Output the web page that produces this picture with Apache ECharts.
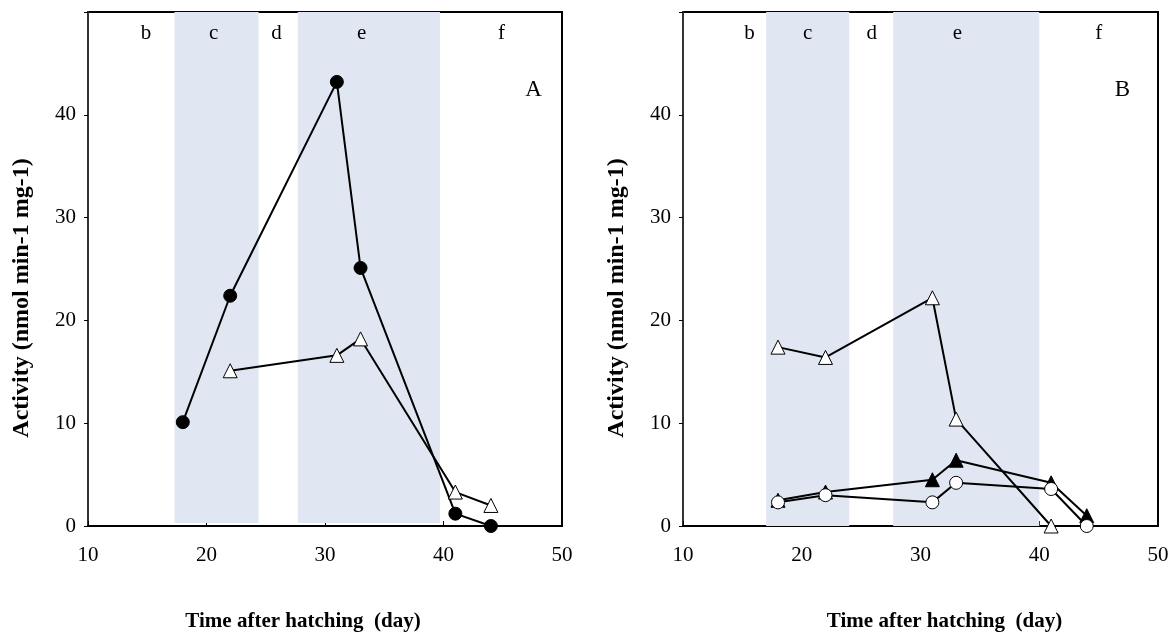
<!DOCTYPE html>
<html>
<head>
<meta charset="utf-8">
<script src="https://cdn.jsdelivr.net/npm/echarts@6/dist/echarts.min.js"></script>
<style>
html,body{margin:0;padding:0;background:#fff;}
#chart{width:1173px;height:637px;}
</style>
</head>
<body>
<div id="chart"></div>
<script>
// ---- Data ----
const xTicks = [10, 20, 30, 40, 50];
const yTicks = [0, 10, 20, 30, 40];
const stageNames = ['b', 'c', 'd', 'e', 'f'];
const stageCentersA = [14.9, 20.6, 25.9, 33.1, 44.9];
const stageCentersB = [15.6, 20.5, 25.9, 33.1, 45.0];
const shadedA = [[17.3, 24.4], [27.7, 39.7]];
const shadedB = [[17.0, 24.0], [27.7, 40.0]];

const daysA_circle = [18, 22, 31, 33, 41, 44];
const valsA_circle = [10.1, 22.4, 43.2, 25.1, 1.2, 0.0];
const daysA_tri = [22, 31, 33, 41, 44];
const valsA_tri = [15.1, 16.6, 18.2, 3.3, 2.0];

const daysB_openTri = [18, 22, 31, 33, 41];
const valsB_openTri = [17.4, 16.4, 22.2, 10.4, 0.0];
const daysB_fillTri = [18, 22, 31, 33, 41, 44];
const valsB_fillTri = [2.5, 3.3, 4.5, 6.4, 4.2, 1.0];
const daysB_openCircle = [18, 22, 31, 33, 41, 44];
const valsB_openCircle = [2.3, 3.0, 2.3, 4.2, 3.6, 0.0];

const panelLetters = ['A', 'B'];

// ---- Build ----
const FONT = '"Liberation Serif", "DejaVu Serif", serif';
const zip = (xs, ys) => xs.map((x, i) => [x, ys[i]]);

function xAxisCfg(gi, namePad) {
  return {
    gridIndex: gi, type: 'value', min: 10, max: 50, interval: 10,
    name: 'Time after hatching  (day)', nameLocation: 'middle', nameGap: 85,
    nameTextStyle: { fontFamily: FONT, fontSize: 21, fontWeight: 'bold', color: '#000', padding: namePad },
    axisLine: { show: true, onZero: false, lineStyle: { color: '#000', width: 2 } },
    axisTick: { show: true, inside: true, length: 5, lineStyle: { color: '#000' } },
    axisLabel: { fontFamily: FONT, fontSize: 21, color: '#000', margin: 19,
      formatter: v => (xTicks.indexOf(v) >= 0 ? String(v) : '') },
    splitLine: { show: false }
  };
}
function yAxisCfg(gi) {
  return {
    gridIndex: gi, type: 'value', min: 0, max: 50, interval: 10,
    name: 'Activity (nmol min-1 mg-1)', nameLocation: 'middle', nameGap: 54,
    nameTextStyle: { fontFamily: FONT, fontSize: 24, fontWeight: 'bold', color: '#000', padding: [0, 58, 0, 0] },
    axisLine: { show: true, lineStyle: { color: '#333', width: 2 } },
    axisTick: { show: true, inside: false, length: 4, lineStyle: { color: '#000' } },
    axisLabel: { fontFamily: FONT, fontSize: 21, color: '#000', margin: 12,
      formatter: v => (yTicks.indexOf(v) >= 0 ? String(v) : '') },
    splitLine: { show: false }
  };
}

function bandArea(bands, ymin) {
  return {
    silent: true,
    itemStyle: { color: '#e0e7f2' },
    data: bands.map(b => [{ coord: [b[0], ymin] }, { coord: [b[1], 50] }])
  };
}
function stageMarks(centers, letter, letterX, letterY) {
  const d = centers.map((c, i) => ({
    name: stageNames[i], coord: [c, 47.9],
    label: { fontSize: 21 }
  }));
  d.push({ name: letter, coord: [letterX, letterY], label: { fontSize: 23 } });
  return {
    symbol: 'circle', symbolSize: 0, silent: true,
    label: { show: true, position: 'inside', formatter: '{b}', fontFamily: FONT, color: '#000' },
    data: d
  };
}

const lineStyle = { color: '#000', width: 2 };

const option = {
  animation: false,
  backgroundColor: '#fff',
  grid: [
    { left: 88, top: 12, width: 474, height: 515, show: true, borderColor: '#000', borderWidth: 2, backgroundColor: 'transparent' },
    { left: 683, top: 12, width: 475, height: 514, show: true, borderColor: '#000', borderWidth: 2, backgroundColor: 'transparent' }
  ],
  xAxis: [xAxisCfg(0, [0, 44, 0, 0]), xAxisCfg(1, [0, 0, 0, 48])],
  yAxis: [yAxisCfg(0), yAxisCfg(1)],
  series: [
    {
      type: 'line', xAxisIndex: 0, yAxisIndex: 0, data: zip(daysA_circle, valsA_circle),
      symbol: 'circle', symbolSize: 13, lineStyle, itemStyle: { color: '#000', borderColor: '#000' },
      markArea: bandArea(shadedA, 0.3),
      markPoint: stageMarks(stageCentersA, panelLetters[0], 47.6, 42.4),
      z: 3
    },
    {
      type: 'line', xAxisIndex: 0, yAxisIndex: 0, data: zip(daysA_tri, valsA_tri),
      symbol: 'triangle', symbolSize: 14, lineStyle,
      itemStyle: { color: '#fff', borderColor: '#000', borderWidth: 1 }, z: 4
    },
    {
      type: 'line', xAxisIndex: 1, yAxisIndex: 1, data: zip(daysB_openTri, valsB_openTri),
      symbol: 'triangle', symbolSize: 14, lineStyle,
      itemStyle: { color: '#fff', borderColor: '#000', borderWidth: 1 },
      markArea: bandArea(shadedB, 0),
      markPoint: stageMarks(stageCentersB, panelLetters[1], 47.0, 42.4),
      z: 3
    },
    {
      type: 'line', xAxisIndex: 1, yAxisIndex: 1, data: zip(daysB_fillTri, valsB_fillTri),
      symbol: 'triangle', symbolSize: 14, lineStyle,
      itemStyle: { color: '#000', borderColor: '#000' }, z: 4
    },
    {
      type: 'line', xAxisIndex: 1, yAxisIndex: 1, data: zip(daysB_openCircle, valsB_openCircle),
      symbol: 'circle', symbolSize: 13, lineStyle,
      itemStyle: { color: '#fff', borderColor: '#000', borderWidth: 1 }, z: 5
    }
  ]
};

const chart = echarts.init(document.getElementById('chart'), null, { renderer: 'canvas' });
chart.setOption(option);
</script>
</body>
</html>
